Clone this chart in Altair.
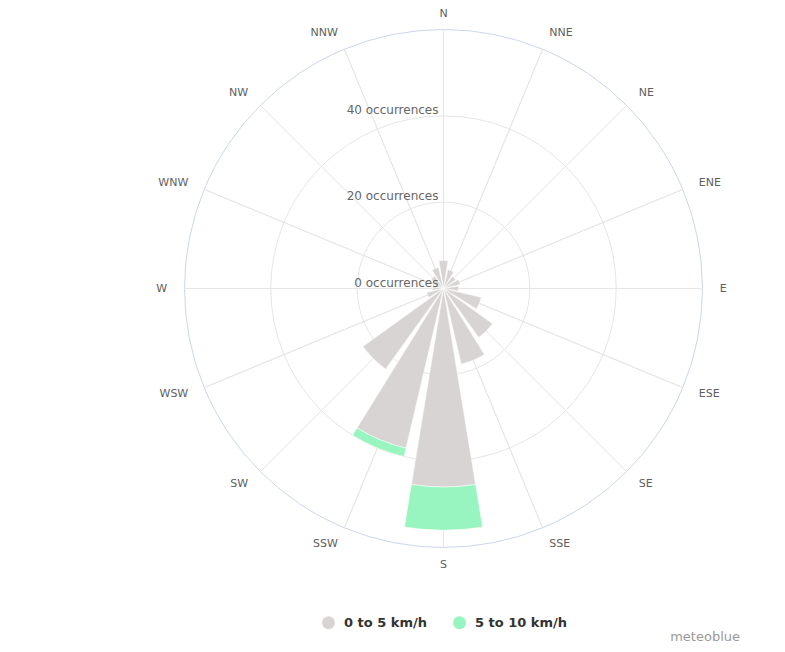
import math
import altair as alt
import pandas as pd

# ---------------- data ----------------
directions = ["N", "NNE", "NE", "ENE", "E", "ESE", "SE", "SSE",
              "S", "SSW", "SW", "WSW", "W", "WNW", "NW", "NNW"]
dir_angles = [i * 22.5 for i in range(16)]          # compass degrees
speed_0_5 = [6.5, 4.5, 3.5, 4, 3.5, 9, 14, 18, 46, 38, 23, 4, 2.5, 2, 3.5, 5]
speed_5_10 = [0, 0, 0, 0, 0, 0, 0, 0, 10, 2, 0, 0, 0, 0, 0, 0]
classes = ["0 to 5 km/h", "5 to 10 km/h"]
class_colors = ["#d9d4d4", "#98f5bf"]
grid_values = [20, 40]
outer_value = [60]
tick_values = [0, 20, 40]
tick_labels = ["0 occurrences", "20 occurrences", "40 occurrences"]

# ---------------- layout / style ----------------
W, H = 769, 636
CX, CY = 435.5, 280.5
R_PX = 259
HALF = 9.3          # half angular width of a bar (deg)
FONT = "DejaVu Sans"

theta_scale = alt.Scale(type="linear", domain=[0, 360], range=[0, 2 * math.pi])
r_scale = alt.Scale(type="linear", domain=[0, 60], range=[0, R_PX], zero=True, nice=False)

# bars table
rows = []
for d, a, s1, s2 in zip(directions, dir_angles, speed_0_5, speed_5_10):
    for cls, lo, hi in [(classes[0], 0, s1), (classes[1], s1, s1 + s2)]:
        if hi > lo:
            rows.append(dict(dir=d, cls=cls, t0=a - HALF, t1=a + HALF, r0=lo, r1=hi))
bars_df = pd.DataFrame(rows)

rings_df = pd.DataFrame({"r": grid_values, "t0": 0, "t1": 360})
outer_df = pd.DataFrame({"r": outer_value, "t0": 0, "t1": 360})
spokes_df = pd.DataFrame({"t": dir_angles, "r": 60, "r0": 0})
labels_df = pd.DataFrame({"dir": directions, "t": dir_angles, "r": 64})
ticks_df = pd.DataFrame({"v": tick_values, "lab": tick_labels, "t": 0})

pos = dict(x=alt.value(CX), y=alt.value(CY))

rings = alt.Chart(rings_df).mark_arc(
    fillOpacity=0, stroke="#e6e6e6", strokeWidth=1
).encode(
    theta=alt.Theta("t0:Q", scale=theta_scale, stack=None),
    theta2="t1:Q",
    radius=alt.Radius("r:Q", scale=r_scale, stack=None),
    **pos,
)

outer = alt.Chart(outer_df).mark_arc(
    fillOpacity=0, stroke="#ccd6eb", strokeWidth=1
).encode(
    theta=alt.Theta("t0:Q", scale=theta_scale, stack=None),
    theta2="t1:Q",
    radius=alt.Radius("r:Q", scale=r_scale, stack=None),
    **pos,
)

spokes = alt.Chart(spokes_df).mark_arc(
    fillOpacity=0, stroke="#e6e6e6", strokeWidth=1
).encode(
    theta=alt.Theta("t:Q", scale=theta_scale, stack=None),
    theta2="t:Q",
    radius=alt.Radius("r:Q", scale=r_scale, stack=None),
    radius2="r0:Q",
    **pos,
)

bars = alt.Chart(bars_df).mark_arc(stroke="#ffffff", strokeWidth=0.5).encode(
    theta=alt.Theta("t0:Q", scale=theta_scale, stack=None),
    theta2="t1:Q",
    radius=alt.Radius("r1:Q", scale=r_scale, stack=None),
    radius2="r0:Q",
    fill=alt.Fill(
        "cls:N",
        scale=alt.Scale(domain=classes, range=class_colors),
        legend=alt.Legend(
            title=None,
            orient="none",
            legendX=314,
            legendY=608,
            direction="horizontal",
            symbolType="circle",
            symbolSize=169,
            symbolStrokeWidth=0,
            labelFont=FONT,
            labelFontSize=13,
            labelFontWeight="bold",
            labelColor="#333333",
            labelOffset=9,
            columnPadding=25,
        ),
    ),
    **pos,
)


def dir_text(sel, align, dy=0):
    return alt.Chart(labels_df[labels_df["dir"].isin(sel)]).mark_text(
        font=FONT, fontSize=11, color="#606060", align=align, baseline="middle", dy=dy
    ).encode(
        theta=alt.Theta("t:Q", scale=theta_scale, stack=None),
        radius=alt.Radius("r:Q", scale=r_scale, stack=None),
        text="dir:N",
        **pos,
    )


east = dir_text(directions[1:8], "left")
west = dir_text(directions[9:16], "right")
north = dir_text(["N"], "center", dy=2)
south = dir_text(["S"], "center")

ticks = alt.Chart(ticks_df).mark_text(
    font=FONT, fontSize=12, color="#666666", align="right", baseline="middle", dx=-5, dy=-6
).encode(
    theta=alt.Theta("t:Q", scale=theta_scale, stack=None),
    radius=alt.Radius("v:Q", scale=r_scale, stack=None),
    text="lab:N",
    **pos,
)

credit = alt.Chart(pd.DataFrame({"t": ["meteoblue"]})).mark_text(
    font=FONT, fontSize=13, color="#999999", align="right", baseline="middle"
).encode(text="t:N", x=alt.value(W - 37), y=alt.value(H - 7))

chart = alt.layer(rings, outer, spokes, bars, ticks, east, west, north, south, credit).properties(
    width=W,
    height=H,
    padding=0,
    autosize=alt.AutoSizeParams(type="none"),
    background="#ffffff",
).configure_view(stroke=None)

chart.save("out.html", embed_options={"renderer": "svg", "actions": False})
